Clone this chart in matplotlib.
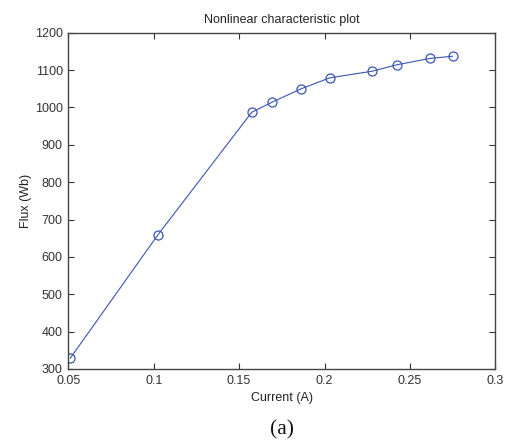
import matplotlib
matplotlib.use("Agg")
import matplotlib.pyplot as plt

current = [0.0512, 0.1023, 0.1574, 0.1693, 0.1864, 0.2030, 0.2280, 0.2423, 0.2616, 0.2750]
flux = [329, 658, 987, 1014, 1050, 1079, 1097, 1114, 1131, 1137]
xticks = [0.05, 0.1, 0.15, 0.2, 0.25, 0.3]
xticklabels = ["0.05", "0.1", "0.15", "0.2", "0.25", "0.3"]
yticks = [300, 400, 500, 600, 700, 800, 900, 1000, 1100, 1200]

plt.rcParams['font.family'] = ['Liberation Sans', 'DejaVu Sans']

fig = plt.figure(figsize=(5.07, 4.41), dpi=100)
ax = fig.add_axes([0.1347, 0.1633, 0.977 - 0.1347, 0.9259 - 0.1633])
ax.plot(current, flux, color='#3a55b4', linewidth=0.8, marker='o',
        markersize=6.5, markerfacecolor='none', markeredgecolor='#3a55b4',
        markeredgewidth=0.9)
ax.set_xlim(0.05, 0.3)
ax.set_ylim(300, 1200)
ax.set_xticks(xticks)
ax.set_xticklabels(xticklabels)
ax.set_yticks(yticks)
ax.tick_params(direction='in', top=True, right=True, length=4, width=0.8,
               labelsize=9, colors='#333333')
ax.tick_params(axis='x', pad=4)
ax.tick_params(axis='y', pad=4)
for s in ax.spines.values():
    s.set_color('#444444')
    s.set_linewidth(1.0)
ax.set_title("Nonlinear characteristic plot", fontsize=9, color='#222222', pad=7)
ax.set_xlabel("Current (A)", fontsize=9, color='#222222', labelpad=4)
ax.set_ylabel("Flux (Wb)", fontsize=9, color='#222222', labelpad=2)
fig.text(0.556, 0.026, "(a)", fontsize=15.5, family='Liberation Serif',
         ha='center', va='center', color='#111111')
fig.savefig("out.png", dpi=100)
